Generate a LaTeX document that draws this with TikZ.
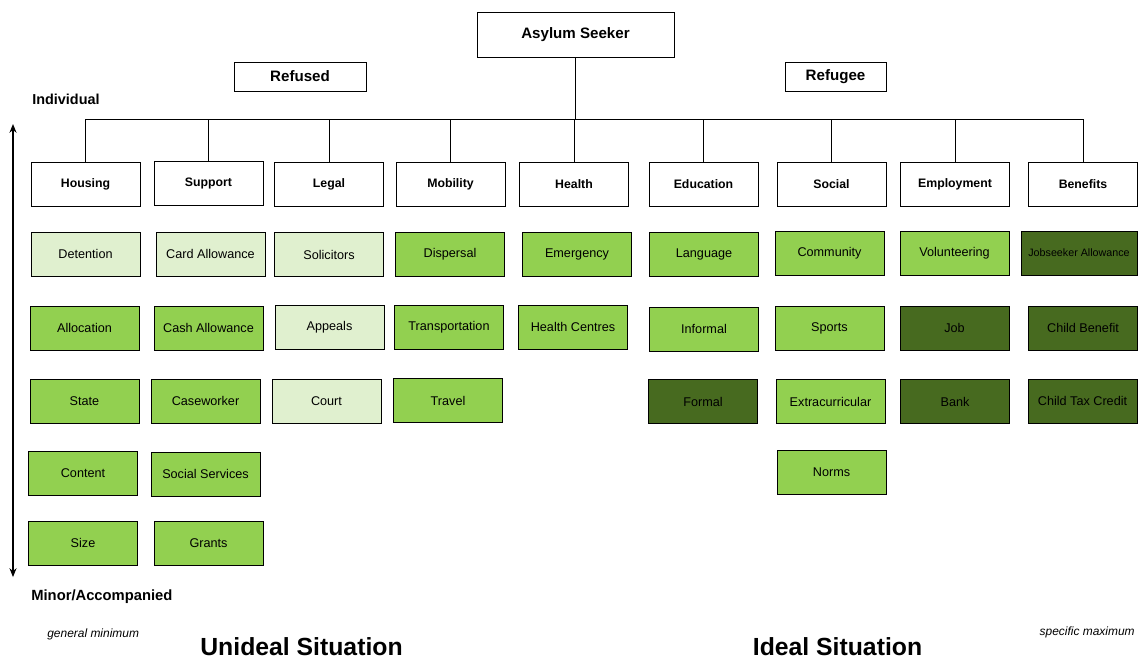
\documentclass[tikz,border=0pt]{standalone}
\usepackage{fontspec}
\setmainfont{Liberation Sans}
\usetikzlibrary{arrows.meta}

\definecolor{paleGreen}{HTML}{E0F0CF}
\definecolor{midGreen}{HTML}{92D050}
\definecolor{darkGreen}{HTML}{476A1F}

\tikzset{
  topbox/.style={draw, line width=0.5pt, fill=white, inner sep=0pt,
    font=\fontsize{8.6}{10}\selectfont\bfseries},
  catbox/.style={draw, line width=0.5pt, fill=white, inner sep=0pt,
    minimum width=2.18cm, minimum height=0.88cm,
    font=\fontsize{7}{8}\selectfont\bfseries},
  itembox/.style={draw, line width=0.5pt, inner sep=0pt,
    minimum width=2.18cm, minimum height=0.88cm,
    font=\fontsize{7.2}{8}\selectfont},
  pale/.style={itembox, fill=paleGreen},
  mid/.style={itembox, fill=midGreen},
  dark/.style={itembox, fill=darkGreen},
  treeline/.style={line width=0.5pt},
  sidetext/.style={inner sep=0pt}
}

\begin{document}
\begin{tikzpicture}[x=0.02cm, y=-0.02cm]
    \useasboundingbox (0,0) rectangle (1138,660);

    % Top of the tree
    \node[topbox, minimum width=3.94cm, minimum height=0.9cm] (seeker) at (575.5,34.5) {Asylum Seeker};
    \node[topbox, minimum width=2.64cm, minimum height=0.58cm] (refused) at (300,76.5) {Refused};
    \node[topbox, minimum width=2.02cm, minimum height=0.58cm] (refugee) at (835.5,76.5) {Refugee};

    % Categories
    \node[catbox] (housing) at (85.5,184) {Housing};
    \node[catbox] (support) at (208.5,183.5) {Support};
    \node[catbox] (legal) at (329,184) {Legal};
    \node[catbox] (mobility) at (450.5,184) {Mobility};
    \node[catbox] (health) at (574,184) {Health};
    \node[catbox] (education) at (703.5,184.5) {Education};
    \node[catbox] (social) at (831.5,184) {Social};
    \node[catbox] (employment) at (955,184) {Employment};
    \node[catbox] (benefits) at (1083,184) {Benefits};

    % Branches
    \coordinate (bar) at (575.5,119);
    \draw[treeline] (seeker) -- (bar);
    \draw[treeline] (housing.north |- bar) -- (benefits.north |- bar);
    \draw[treeline] (housing) -- (housing.north |- bar);
    \draw[treeline] (support) -- (support.north |- bar);
    \draw[treeline] (legal) -- (legal.north |- bar);
    \draw[treeline] (mobility) -- (mobility.north |- bar);
    \draw[treeline] (health) -- (health.north |- bar);
    \draw[treeline] (education) -- (education.north |- bar);
    \draw[treeline] (social) -- (social.north |- bar);
    \draw[treeline] (employment) -- (employment.north |- bar);
    \draw[treeline] (benefits) -- (benefits.north |- bar);

    % Housing
    \node[pale] (detention) at (85.5,254) {Detention};
    \node[mid] (allocation) at (84.5,328) {Allocation};
    \node[mid] (state) at (84.5,401) {State};
    \node[mid] (content) at (83,473) {Content};
    \node[mid] (size) at (83,543) {Size};

    % Support
    \node[pale] (card) at (210.5,254) {Card Allowance};
    \node[mid] (cash) at (208.5,328) {Cash Allowance};
    \node[mid] (caseworker) at (205.5,401) {Caseworker};
    \node[mid] (services) at (205.5,474) {Social Services};
    \node[mid] (grants) at (208.5,543) {Grants};

    % Legal
    \node[pale] (solicitors) at (329,254.5) {Solicitors};
    \node[pale] (appeals) at (329.5,327) {Appeals};
    \node[pale] (court) at (326.5,401.5) {Court};

    % Mobility
    \node[mid] (dispersal) at (450,254) {Dispersal};
    \node[mid] (transport) at (449,327) {Transportation};
    \node[mid] (travel) at (448,400.5) {Travel};

    % Health
    \node[mid] (emergency) at (577,254) {Emergency};
    \node[mid] (centres) at (573,327) {Health Centres};

    % Education
    \node[mid] (language) at (704,254) {Language};
    \node[mid] (informal) at (704,329) {Informal};
    \node[dark] (formal) at (703,401.5) {Formal};

    % Social
    \node[mid] (community) at (829.5,253.5) {Community};
    \node[mid] (sports) at (829.5,328) {Sports};
    \node[mid] (extra) at (830.5,401.5) {Extracurricular};
    \node[mid] (norms) at (831.5,472.5) {Norms};

    % Employment
    \node[mid] (volunteering) at (954.5,253.5) {Volunteering};
    \node[dark] (job) at (954.5,328) {Job};
    \node[dark] (bank) at (955,401.5) {Bank};

    % Benefits
    \node[dark, minimum width=2.32cm, font=\fontsize{6.1}{7}\selectfont] (jobseeker) at (1079,253) {Jobseeker Allowance};
    \node[dark] (childben) at (1083,328) {Child Benefit};
    \node[dark] (taxcredit) at (1082.5,401) {Child Tax Credit};

    % Scale on the left
    \coordinate (upper) at (13,124);
    \coordinate (lower) at (13,577);
    \draw[line width=0.6pt, {Stealth[length=5pt,width=4pt]}-{Stealth[length=5pt,width=4pt]}] (upper) -- (lower);

    % Labels
    \node[sidetext, anchor=west, font=\fontsize{8.2}{10}\selectfont\bfseries] (individual) at (32,99) {Individual};
    \node[sidetext, anchor=west, font=\fontsize{8.4}{10}\selectfont\bfseries] (minor) at (31,597) {Minor/Accompanied};
    \node[sidetext, anchor=west, font=\fontsize{6.8}{8}\selectfont\itshape] (genmin) at (47,634) {general minimum};
    \node[sidetext, anchor=east, font=\fontsize{6.8}{8}\selectfont\itshape] (specmax) at (1135,632) {specific maximum};
    \node[font=\fontsize{14.1}{16}\selectfont\bfseries] (unideal) at (301.5,647) {Unideal Situation};
    \node[font=\fontsize{14.1}{16}\selectfont\bfseries] (ideal) at (837.5,647) {Ideal Situation};
\end{tikzpicture}
\end{document}
